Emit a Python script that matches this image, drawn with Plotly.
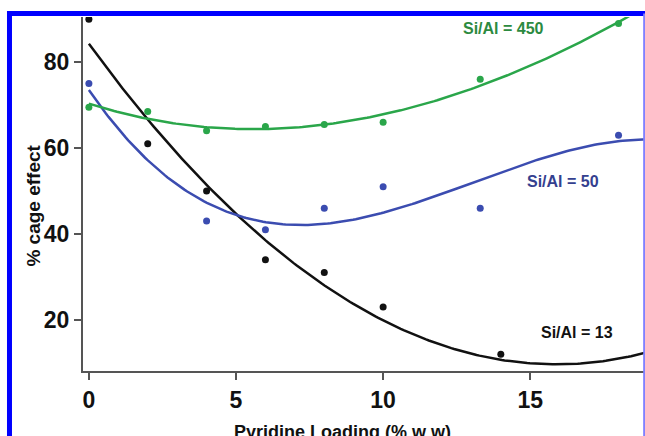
import numpy as np
import plotly.graph_objects as go

# ---- data ----
x13 = [0, 2, 4, 6, 8, 10, 14, 19]
y13 = [90, 61, 50, 34, 31, 23, 12, 11]

x50 = [0, 4, 6, 8, 10, 13.3, 18]
y50 = [75, 43, 41, 46, 51, 46, 63]

x450 = [0, 2, 4, 6, 8, 10, 13.3, 18]
y450 = [69.5, 68.5, 64, 65, 65.5, 66, 76, 89]

x_ticks = [0, 5, 10, 15]
y_ticks = [20, 40, 60, 80]

series = [
    ("Si/Al = 13", x13, y13, 2, "#111111", "#111111", 16.6, 17.0),
    ("Si/Al = 50", x50, y50, 3, "#3b4cb0", "#34408f", 16.1, 52.1),
    ("Si/Al = 450", x450, y450, 3, "#2aa64a", "#2c8a40", 14.1, 87.9),
]

fig = go.Figure()
xs = np.linspace(0, 19, 200)
for name, xd, yd, deg, col, tcol, lx, ly in series:
    coef = np.polyfit(xd, yd, deg)
    fig.add_trace(go.Scatter(x=xs, y=np.polyval(coef, xs), mode="lines",
                             line=dict(color=col, width=2.5), showlegend=False,
                             hoverinfo="skip"))
    fig.add_trace(go.Scatter(x=xd, y=yd, mode="markers",
                             marker=dict(color=col, size=7), showlegend=False,
                             name=name))
    fig.add_annotation(x=lx, y=ly, text=name, showarrow=False,
                       font=dict(family="Liberation Sans", size=16, color=tcol, weight="bold"))

axis_common = dict(showline=True, linecolor="#555555", linewidth=2, ticks="outside",
                   ticklen=7, tickwidth=2, tickcolor="#555555", showgrid=False, zeroline=False,
                   tickfont=dict(family="Liberation Sans", size=23, color="#111111", weight="bold"))

fig.update_layout(
    width=645, height=436,
    margin=dict(l=83, r=0, t=17, b=65),
    paper_bgcolor="white", plot_bgcolor="white",
    xaxis=dict(range=[-0.2, 18.9], tickvals=x_ticks, **axis_common),
    yaxis=dict(range=[8.1, 90.5], tickvals=y_ticks, **axis_common),
)

fig.add_annotation(xref="paper", yref="paper", x=-0.112, y=0.466, text="% cage effect",
                   textangle=-90, showarrow=False,
                   font=dict(family="Liberation Sans", size=19, color="#111111", weight="bold"))
fig.add_annotation(xref="paper", yref="paper", x=0.461, y=-0.172, text="Pyridine Loading (% w w)",
                   showarrow=False, yanchor="middle",
                   font=dict(family="Liberation Sans", size=18, color="#111111", weight="bold"))

# blue frame
fig.add_shape(type="line", xref="paper", yref="paper", x0=-0.1308, x1=-0.1308, y0=1.017, y1=-0.3,
              line=dict(color="#0000ff", width=5))
fig.add_shape(type="line", xref="paper", yref="paper", x0=-0.135, x1=1.1, y0=1.0099, y1=1.0099,
              line=dict(color="#0000ff", width=5))
fig.add_shape(type="line", xref="paper", yref="paper", x0=0.9985, x1=0.9985, y0=1.0099, y1=-0.3,
              line=dict(color="#8080ff", width=2))

fig.write_html("out.html")
